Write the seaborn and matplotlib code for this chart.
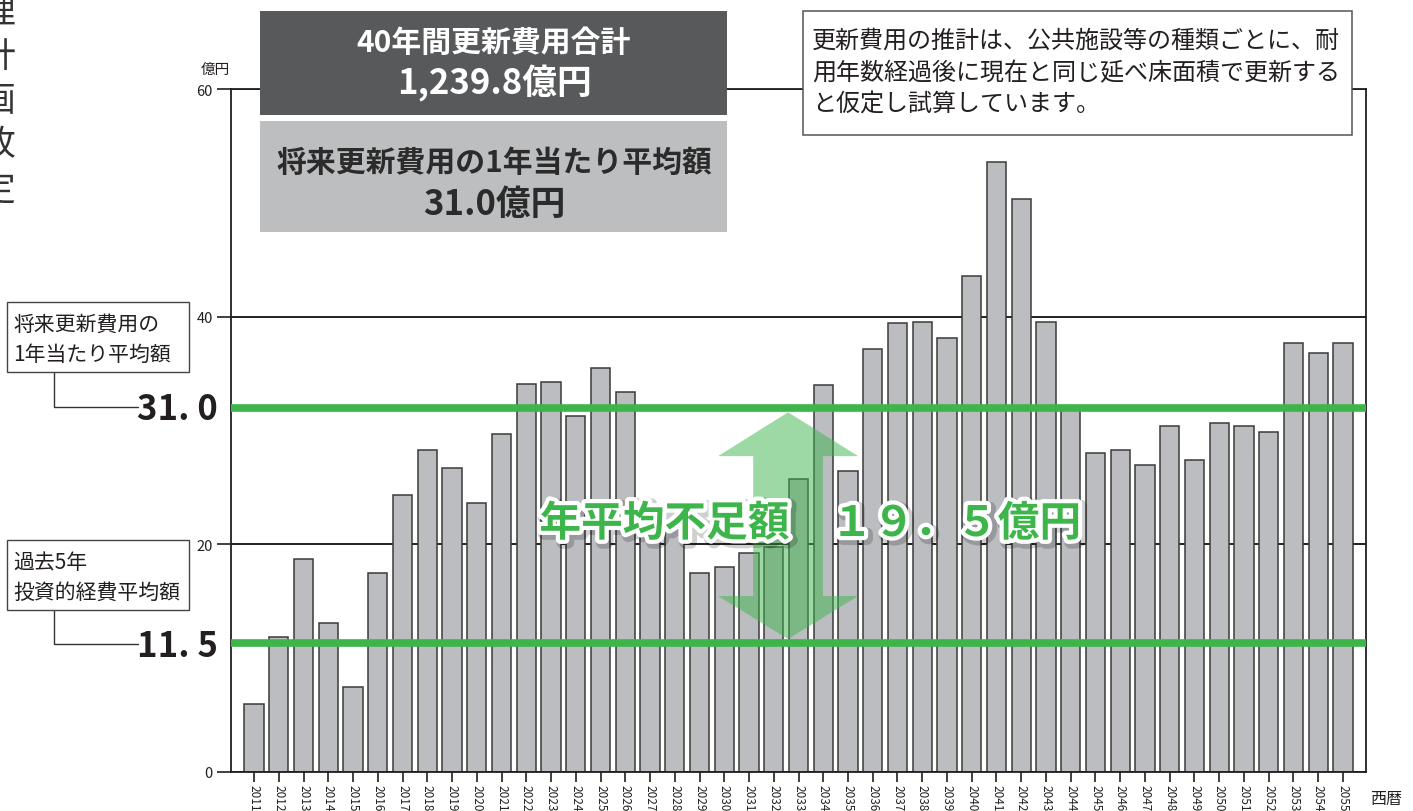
import matplotlib
matplotlib.use("Agg")
import matplotlib.pyplot as plt
import matplotlib.patheffects as pe
from matplotlib.patches import Rectangle, Polygon
import seaborn as sns

# --- data ---
years = [str(y) for y in range(2011, 2056)]
renewal_cost = [6.0, 11.9, 18.7, 13.1, 7.5, 17.5, 24.3, 28.3, 26.7, 23.6,
                29.7, 34.1, 34.3, 31.3, 35.5, 33.4, 22.0, 21.5, 17.5, 18.0,
                19.2, 19.8, 25.7, 34.0, 26.4, 37.2, 39.4, 39.5, 38.1, 43.6,
                53.6, 50.3, 39.5, 31.8, 28.0, 28.3, 27.0, 30.4, 27.4, 30.7,
                30.4, 29.9, 37.7, 36.8, 37.7]
# green reference lines as they sit in the picture (labelled 31.0 / 11.5)
line_levels = [32.0, 11.3]
line_labels = ["31. 0", "11. 5"]
yticks = [0, 20, 40, 60]

total_text = ["40年間更新費用合計", "1,239.8億円"]
avg_text = ["将来更新費用の1年当たり平均額", "31.0億円"]
note_lines = ["更新費用の推計は、公共施設等の種類ごとに、耐",
              "用年数経過後に現在と同じ延べ床面積で更新する",
              "と仮定し試算しています。"]
side_boxes = [["将来更新費用の", "1年当たり平均額"], ["過去5年", "投資的経費平均額"]]
gap_text = "年平均不足額　１９．５億円"

sns.set_style("white")
plt.rcParams["font.family"] = ["Noto Sans CJK JP", "DejaVu Sans"]

W, H = 1413, 812
fig = plt.figure(figsize=(W / 100, H / 100), dpi=100)


def fx(x):
    return x / W


def fy(y):
    return 1 - y / H


ax = fig.add_axes([fx(231), fy(773), fx(1366) - fx(231), fy(90) - fy(773)])

sns.barplot(x=years, y=renewal_cost, color="#bcbdc1", saturation=1, width=0.77,
            edgecolor="#3a3a3a", linewidth=1.1, ax=ax, zorder=2)

ax.set_xlim(-0.93, 44.93)
ax.set_ylim(0, 60)
ax.set_yticks(yticks)
ax.yaxis.grid(True, color="#231f20", lw=1.4)
ax.set_axisbelow(True)
ax.set_xlabel("")
ax.set_ylabel("")
for s in ax.spines.values():
    s.set_visible(True)
    s.set_color("#231f20")
    s.set_linewidth(1.3)
ax.tick_params(axis="y", length=10, width=1.2, labelsize=10.5, pad=3, colors="#231f20", left=True)
ax.tick_params(axis="x", length=7, width=1.2, labelsize=8.5, pad=2, colors="#231f20", bottom=True)
for lab in ax.get_xticklabels():
    lab.set_rotation(-90)
    lab.set_va("top")
    lab.set_ha("center")

# green average lines
for lvl in line_levels:
    ax.axhline(lvl, color="#3db54a", lw=5.5, zorder=4)

# double arrow between the two levels
xc = 21.58
head, shaft = 2.83, 1.41
top_tip, top_base, bot_base, bot_tip = 31.6, 27.75, 15.46, 11.68
arrow = Polygon([(xc, top_tip), (xc + head, top_base), (xc + shaft, top_base),
                 (xc + shaft, bot_base), (xc + head, bot_base), (xc, bot_tip),
                 (xc - head, bot_base), (xc - shaft, bot_base), (xc - shaft, top_base),
                 (xc - head, top_base)],
                closed=True, facecolor="#3db54a", edgecolor="none", alpha=0.5, zorder=5)
ax.add_patch(arrow)

fig.text(fx(810), fy(525), gap_text, fontsize=30, fontweight="bold", color="#3db54a",
         ha="center", va="center", zorder=10,
         path_effects=[pe.Stroke(linewidth=9, foreground="#00000030", offset=(2, -2)),
                       pe.Stroke(linewidth=6, foreground="white"), pe.Normal()])

# top summary boxes
fig.add_artist(Rectangle((fx(260), fy(116)), fx(727) - fx(260), fy(12) - fy(116),
                         transform=fig.transFigure, facecolor="#58595b", edgecolor="none", zorder=5))
fig.text(fx(494), fy(43), total_text[0], fontsize=21.5, fontweight="bold", color="white",
         ha="center", va="center", zorder=6)
fig.text(fx(494), fy(83), total_text[1], fontsize=25, fontweight="bold", color="white",
         ha="center", va="center", zorder=6)

fig.add_artist(Rectangle((fx(260), fy(233)), fx(727) - fx(260), fy(122) - fy(233),
                         transform=fig.transFigure, facecolor="#bcbec0", edgecolor="none", zorder=5))
fig.text(fx(494), fy(163), avg_text[0], fontsize=21.5, fontweight="bold", color="#2b2b2b",
         ha="center", va="center", zorder=6)
fig.text(fx(494), fy(204), avg_text[1], fontsize=25, fontweight="bold", color="#2b2b2b",
         ha="center", va="center", zorder=6)

# note box
fig.add_artist(Rectangle((fx(803), fy(136)), fx(1352) - fx(803), fy(12) - fy(136),
                         transform=fig.transFigure, facecolor="white", edgecolor="#555555",
                         lw=1.1, zorder=5))
for i, line in enumerate(note_lines):
    fig.text(fx(812), fy(41 + 32 * i), line, fontsize=17.3, color="#231f20",
             ha="left", va="center", zorder=6)

# left annotation boxes with leader lines
for (top, bot, lead_y), lines, lbl in zip([(303, 373, 408), (541, 611, 645)], side_boxes, line_labels):
    fig.add_artist(Rectangle((fx(7), fy(bot)), fx(189) - fx(7), fy(top) - fy(bot),
                             transform=fig.transFigure, facecolor="white", edgecolor="#444444",
                             lw=1.0, zorder=5))
    fig.text(fx(13), fy(top + 22), lines[0], fontsize=15, color="#231f20", ha="left", va="center", zorder=6)
    fig.text(fx(13), fy(top + 52), lines[1], fontsize=15, color="#231f20", ha="left", va="center", zorder=6)
    fig.add_artist(plt.Line2D([fx(54), fx(54), fx(138)], [fy(bot), fy(lead_y), fy(lead_y)],
                              transform=fig.transFigure, color="#333333", lw=1.0))
    fig.text(fx(218), fy(lead_y + 2), lbl, fontsize=25, fontweight="bold", color="#231f20",
             ha="right", va="center")

fig.text(fx(215), fy(70), "億円", fontsize=10.5, color="#231f20", ha="center", va="center")
fig.text(fx(1386), fy(800), "西暦", fontsize=11.5, color="#231f20", ha="center", va="center")

# cut-off page header on the far left
for i, ch in enumerate("理計画改定"):
    fig.text(fx(-2), fy(14 + 44 * i), ch, fontsize=25, color="#333333", ha="center", va="center")

fig.savefig("out.png", dpi=100)
